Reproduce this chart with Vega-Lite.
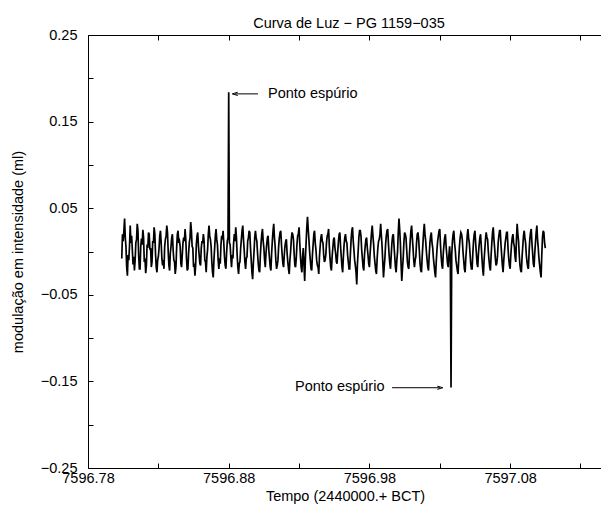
{
"$schema":"https://vega.github.io/schema/vega-lite/v6.json",
"width":514,"height":433,
"autosize":{"type":"none"},
"padding":{"left":88,"top":35,"right":0,"bottom":39},
"background":"white",
"config":{
"font":"Liberation Sans",
"view":{"stroke":"black","strokeWidth":1},
"axis":{"domain":false,"grid":false,"tickColor":"black","tickSize":-5,"tickWidth":1,"labelColor":"black","labelFont":"Liberation Sans","labelFontSize":14.5,"titleFont":"Liberation Sans","titleFontSize":14.5,"titleFontWeight":"normal","titleColor":"black"}
},
"title":{"text":"Curva de Luz − PG 1159−035","fontSize":14.5,"fontWeight":"normal","font":"Liberation Sans","color":"black","offset":3,"dx":4,"dy":7},
"datasets":{
"lc":[
{"t":7596.804,"m":-0.008},{"t":7596.8045,"m":0.020},{"t":7596.805,"m":0.012},{"t":7596.8055,"m":0.024},{"t":7596.806,"m":0.038},{"t":7596.8065,"m":0.016},{"t":7596.807,"m":0.005},{"t":7596.8075,"m":-0.018},{"t":7596.808,"m":-0.028},{"t":7596.8085,"m":-0.004},{"t":7596.809,"m":-0.010},{"t":7596.8095,"m":0.006},{"t":7596.810,"m":0.030},{"t":7596.8105,"m":0.010},{"t":7596.811,"m":0.018},{"t":7596.8115,"m":0.002},{"t":7596.812,"m":-0.015},{"t":7596.8125,"m":-0.006},{"t":7596.813,"m":-0.022},{"t":7596.8135,"m":-0.010},
{"t":7596.814,"m":0.010},{"t":7596.8145,"m":0.014},{"t":7596.815,"m":0.032},{"t":7596.8155,"m":0.024},{"t":7596.816,"m":-0.005},{"t":7596.8165,"m":-0.020},{"t":7596.817,"m":-0.020},{"t":7596.8175,"m":0.006},{"t":7596.818,"m":0.015},{"t":7596.8185,"m":0.008},{"t":7596.819,"m":0.025},{"t":7596.8195,"m":0.016},{"t":7596.820,"m":-0.012},{"t":7596.8205,"m":-0.008},{"t":7596.821,"m":-0.025},{"t":7596.8215,"m":-0.016},{"t":7596.822,"m":0.008},{"t":7596.8225,"m":0.004},{"t":7596.823,"m":0.022},{"t":7596.8235,"m":0.020},
{"t":7596.824,"m":0.002},{"t":7596.8245,"m":0.004},{"t":7596.825,"m":-0.018},{"t":7596.8255,"m":-0.012},{"t":7596.826,"m":0.012},{"t":7596.8265,"m":0.010},{"t":7596.827,"m":0.028},{"t":7596.8275,"m":0.020},{"t":7596.828,"m":-0.003},{"t":7596.8285,"m":-0.018},{"t":7596.829,"m":-0.024},{"t":7596.8295,"m":-0.010},{"t":7596.830,"m":-0.006},{"t":7596.8305,"m":0.004},{"t":7596.831,"m":0.018},{"t":7596.8315,"m":0.024},{"t":7596.832,"m":0.010},{"t":7596.8325,"m":-0.008},{"t":7596.833,"m":-0.016},{"t":7596.8335,"m":-0.010},
{"t":7596.834,"m":-0.020},{"t":7596.8345,"m":0.006},{"t":7596.835,"m":0.014},{"t":7596.8355,"m":0.018},{"t":7596.836,"m":0.030},{"t":7596.8365,"m":0.022},{"t":7596.837,"m":0.000},{"t":7596.8375,"m":-0.016},{"t":7596.838,"m":-0.022},{"t":7596.8385,"m":-0.002},{"t":7596.839,"m":0.006},{"t":7596.8395,"m":0.016},{"t":7596.840,"m":0.020},{"t":7596.8405,"m":0.002},{"t":7596.841,"m":-0.010},{"t":7596.8415,"m":-0.012},{"t":7596.842,"m":-0.026},{"t":7596.8425,"m":-0.018},{"t":7596.843,"m":0.004},{"t":7596.8435,"m":0.020},
{"t":7596.844,"m":0.024},{"t":7596.8445,"m":0.010},{"t":7596.845,"m":0.012},{"t":7596.8455,"m":0.006},{"t":7596.846,"m":-0.014},{"t":7596.8465,"m":-0.018},{"t":7596.847,"m":-0.004},{"t":7596.8475,"m":0.010},{"t":7596.848,"m":0.016},{"t":7596.8485,"m":0.012},{"t":7596.849,"m":0.026},{"t":7596.8495,"m":0.014},{"t":7596.850,"m":-0.008},{"t":7596.8505,"m":-0.022},{"t":7596.851,"m":-0.020},{"t":7596.8515,"m":-0.002},{"t":7596.852,"m":0.010},{"t":7596.8525,"m":0.016},{"t":7596.853,"m":0.034},{"t":7596.8535,"m":0.024},
{"t":7596.854,"m":0.006},{"t":7596.8545,"m":0.004},{"t":7596.855,"m":-0.018},{"t":7596.8555,"m":-0.014},{"t":7596.856,"m":-0.028},{"t":7596.8565,"m":-0.016},{"t":7596.857,"m":0.008},{"t":7596.8575,"m":0.018},{"t":7596.858,"m":0.022},{"t":7596.8585,"m":0.006},{"t":7596.859,"m":-0.004},{"t":7596.8595,"m":-0.014},{"t":7596.860,"m":-0.016},{"t":7596.8605,"m":0.004},{"t":7596.861,"m":0.012},{"t":7596.8615,"m":0.010},{"t":7596.862,"m":0.020},{"t":7596.8625,"m":0.012},{"t":7596.863,"m":-0.010},{"t":7596.8635,"m":-0.012},
{"t":7596.864,"m":-0.024},{"t":7596.8645,"m":-0.006},{"t":7596.865,"m":0.002},{"t":7596.8655,"m":0.020},{"t":7596.866,"m":0.030},{"t":7596.8665,"m":0.018},{"t":7596.867,"m":0.014},{"t":7596.8675,"m":0.006},{"t":7596.868,"m":-0.012},{"t":7596.8685,"m":-0.024},{"t":7596.869,"m":-0.030},{"t":7596.8695,"m":-0.010},{"t":7596.870,"m":0.004},{"t":7596.8705,"m":0.018},{"t":7596.871,"m":0.026},{"t":7596.8715,"m":0.014},{"t":7596.872,"m":0.008},{"t":7596.8725,"m":-0.010},{"t":7596.873,"m":-0.020},{"t":7596.8735,"m":-0.008},
{"t":7596.874,"m":-0.014},{"t":7596.8745,"m":0.008},{"t":7596.875,"m":0.018},{"t":7596.8755,"m":0.014},{"t":7596.876,"m":0.024},{"t":7596.8765,"m":0.010},{"t":7596.877,"m":-0.006},{"t":7596.8775,"m":-0.016},{"t":7596.878,"m":-0.020},{"t":7596.8785,"m":-0.002},{"t":7596.879,"m":0.012},{"t":7596.8795,"m":0.016},{"t":7596.880,"m":0.184},{"t":7596.8805,"m":0.010},{"t":7596.881,"m":0.008},{"t":7596.8815,"m":-0.006},{"t":7596.882,"m":-0.018},{"t":7596.8825,"m":-0.004},{"t":7596.883,"m":-0.008},{"t":7596.8835,"m":0.010},
{"t":7596.884,"m":0.020},{"t":7596.8845,"m":0.012},{"t":7596.885,"m":0.028},{"t":7596.8855,"m":0.016},{"t":7596.886,"m":-0.004},{"t":7596.8865,"m":-0.018},{"t":7596.887,"m":-0.026},{"t":7596.8875,"m":-0.014},{"t":7596.888,"m":-0.012},{"t":7596.8885,"m":0.004},{"t":7596.889,"m":0.014},{"t":7596.8895,"m":0.024},{"t":7596.890,"m":0.030},{"t":7596.8905,"m":0.014},{"t":7596.891,"m":0.002},{"t":7596.8915,"m":-0.012},{"t":7596.892,"m":-0.020},{"t":7596.8925,"m":-0.008},{"t":7596.893,"m":-0.006},{"t":7596.8935,"m":0.012},
{"t":7596.894,"m":0.016},{"t":7596.8945,"m":0.024},{"t":7596.895,"m":0.022},{"t":7596.8955,"m":0.004},{"t":7596.896,"m":-0.010},{"t":7596.8965,"m":-0.024},{"t":7596.897,"m":-0.032},{"t":7596.8975,"m":-0.014},{"t":7596.898,"m":0.000},{"t":7596.8985,"m":0.016},{"t":7596.899,"m":0.024},{"t":7596.8995,"m":0.016},{"t":7596.900,"m":0.012},{"t":7596.9005,"m":-0.002},{"t":7596.901,"m":-0.014},{"t":7596.9015,"m":-0.022},{"t":7596.902,"m":-0.024},{"t":7596.9025,"m":-0.004},{"t":7596.903,"m":0.010},{"t":7596.9035,"m":0.020},
{"t":7596.904,"m":0.026},{"t":7596.9045,"m":0.012},{"t":7596.905,"m":0.004},{"t":7596.9055,"m":-0.010},{"t":7596.906,"m":-0.018},{"t":7596.9065,"m":-0.002},{"t":7596.907,"m":0.008},{"t":7596.9075,"m":0.016},{"t":7596.908,"m":0.018},{"t":7596.9085,"m":0.002},{"t":7596.909,"m":-0.008},{"t":7596.9095,"m":-0.018},{"t":7596.910,"m":-0.022},{"t":7596.9105,"m":-0.002},{"t":7596.911,"m":0.012},{"t":7596.9115,"m":0.024},{"t":7596.912,"m":0.032},{"t":7596.9125,"m":0.016},{"t":7596.913,"m":0.006},{"t":7596.9135,"m":-0.010},
{"t":7596.914,"m":-0.020},{"t":7596.9145,"m":-0.016},{"t":7596.915,"m":-0.010},{"t":7596.9155,"m":0.006},{"t":7596.916,"m":0.016},{"t":7596.9165,"m":0.022},{"t":7596.917,"m":0.024},{"t":7596.9175,"m":0.008},{"t":7596.918,"m":-0.004},{"t":7596.9185,"m":-0.014},{"t":7596.919,"m":-0.018},{"t":7596.9195,"m":-0.004},{"t":7596.920,"m":0.006},{"t":7596.9205,"m":0.012},{"t":7596.921,"m":0.014},{"t":7596.9215,"m":-0.002},{"t":7596.922,"m":-0.012},{"t":7596.9225,"m":-0.020},{"t":7596.923,"m":-0.026},{"t":7596.9235,"m":-0.010},
{"t":7596.924,"m":0.000},{"t":7596.9245,"m":0.014},{"t":7596.925,"m":0.022},{"t":7596.9255,"m":0.020},{"t":7596.926,"m":0.014},{"t":7596.9265,"m":-0.002},{"t":7596.927,"m":-0.016},{"t":7596.9275,"m":-0.018},{"t":7596.928,"m":-0.008},{"t":7596.9285,"m":0.008},{"t":7596.929,"m":0.018},{"t":7596.9295,"m":0.020},{"t":7596.930,"m":0.028},{"t":7596.9305,"m":0.010},{"t":7596.931,"m":-0.006},{"t":7596.9315,"m":-0.018},{"t":7596.932,"m":-0.024},{"t":7596.9325,"m":-0.006},{"t":7596.933,"m":0.004},{"t":7596.9335,"m":-0.016},
{"t":7596.934,"m":-0.034},{"t":7596.9345,"m":-0.008},{"t":7596.935,"m":0.010},{"t":7596.9355,"m":0.028},{"t":7596.936,"m":0.040},{"t":7596.9365,"m":0.026},{"t":7596.937,"m":0.014},{"t":7596.9375,"m":0.000},{"t":7596.938,"m":-0.010},{"t":7596.9385,"m":-0.020},{"t":7596.939,"m":-0.022},{"t":7596.9395,"m":-0.004},{"t":7596.940,"m":0.008},{"t":7596.9405,"m":0.020},{"t":7596.941,"m":0.024},{"t":7596.9415,"m":0.010},{"t":7596.942,"m":0.002},{"t":7596.9425,"m":-0.010},{"t":7596.943,"m":-0.016},{"t":7596.9435,"m":-0.018},
{"t":7596.944,"m":-0.026},{"t":7596.9445,"m":-0.006},{"t":7596.945,"m":0.006},{"t":7596.9455,"m":0.016},{"t":7596.946,"m":0.020},{"t":7596.9465,"m":0.012},{"t":7596.947,"m":0.010},{"t":7596.9475,"m":-0.004},{"t":7596.948,"m":-0.012},{"t":7596.9485,"m":-0.010},{"t":7596.949,"m":-0.004},{"t":7596.9495,"m":0.010},{"t":7596.950,"m":0.018},{"t":7596.9505,"m":0.020},{"t":7596.951,"m":0.026},{"t":7596.9515,"m":0.006},{"t":7596.952,"m":-0.008},{"t":7596.9525,"m":-0.018},{"t":7596.953,"m":-0.022},{"t":7596.9535,"m":-0.006},
{"t":7596.954,"m":0.004},{"t":7596.9545,"m":0.014},{"t":7596.955,"m":0.016},{"t":7596.9555,"m":0.004},{"t":7596.956,"m":-0.002},{"t":7596.9565,"m":-0.012},{"t":7596.957,"m":-0.014},{"t":7596.9575,"m":0.000},{"t":7596.958,"m":0.012},{"t":7596.9585,"m":0.020},{"t":7596.959,"m":0.022},{"t":7596.9595,"m":0.006},{"t":7596.960,"m":-0.006},{"t":7596.9605,"m":-0.018},{"t":7596.961,"m":-0.024},{"t":7596.9615,"m":-0.006},{"t":7596.962,"m":0.008},{"t":7596.9625,"m":0.016},{"t":7596.963,"m":0.020},{"t":7596.9635,"m":0.012},
{"t":7596.964,"m":0.010},{"t":7596.9645,"m":-0.004},{"t":7596.965,"m":-0.012},{"t":7596.9655,"m":-0.020},{"t":7596.966,"m":-0.020},{"t":7596.9665,"m":-0.002},{"t":7596.967,"m":0.014},{"t":7596.9675,"m":0.024},{"t":7596.968,"m":0.028},{"t":7596.9685,"m":0.012},{"t":7596.969,"m":0.002},{"t":7596.9695,"m":-0.010},{"t":7596.970,"m":-0.016},{"t":7596.9705,"m":-0.024},{"t":7596.971,"m":-0.038},{"t":7596.9715,"m":-0.014},{"t":7596.972,"m":0.000},{"t":7596.9725,"m":0.016},{"t":7596.973,"m":0.024},{"t":7596.9735,"m":0.024},
{"t":7596.974,"m":0.018},{"t":7596.9745,"m":0.002},{"t":7596.975,"m":-0.008},{"t":7596.9755,"m":-0.018},{"t":7596.976,"m":-0.022},{"t":7596.9765,"m":-0.004},{"t":7596.977,"m":0.006},{"t":7596.9775,"m":0.014},{"t":7596.978,"m":0.016},{"t":7596.9785,"m":0.004},{"t":7596.979,"m":-0.004},{"t":7596.9795,"m":-0.014},{"t":7596.980,"m":-0.018},{"t":7596.9805,"m":-0.002},{"t":7596.981,"m":0.010},{"t":7596.9815,"m":0.022},{"t":7596.982,"m":0.030},{"t":7596.9825,"m":0.018},{"t":7596.983,"m":0.008},{"t":7596.9835,"m":-0.006},
{"t":7596.984,"m":-0.014},{"t":7596.9845,"m":-0.022},{"t":7596.985,"m":-0.026},{"t":7596.9855,"m":-0.008},{"t":7596.986,"m":0.004},{"t":7596.9865,"m":0.012},{"t":7596.987,"m":0.014},{"t":7596.9875,"m":0.020},{"t":7596.988,"m":0.032},{"t":7596.9885,"m":0.018},{"t":7596.989,"m":0.006},{"t":7596.9895,"m":-0.012},{"t":7596.990,"m":-0.030},{"t":7596.9905,"m":-0.018},{"t":7596.991,"m":-0.008},{"t":7596.9915,"m":0.008},{"t":7596.992,"m":0.018},{"t":7596.9925,"m":0.024},{"t":7596.993,"m":0.026},{"t":7596.9935,"m":0.010},
{"t":7596.994,"m":-0.004},{"t":7596.9945,"m":-0.014},{"t":7596.995,"m":-0.020},{"t":7596.9955,"m":-0.004},{"t":7596.996,"m":0.010},{"t":7596.9965,"m":0.018},{"t":7596.997,"m":0.020},{"t":7596.9975,"m":0.006},{"t":7596.998,"m":-0.006},{"t":7596.9985,"m":-0.018},{"t":7596.999,"m":-0.024},{"t":7596.9995,"m":-0.010},{"t":7597.000,"m":0.000},{"t":7597.0005,"m":0.022},{"t":7597.001,"m":0.038},{"t":7597.0015,"m":0.026},{"t":7597.002,"m":0.010},{"t":7597.0025,"m":-0.014},{"t":7597.003,"m":-0.034},{"t":7597.0035,"m":-0.020},
{"t":7597.004,"m":-0.008},{"t":7597.0045,"m":0.010},{"t":7597.005,"m":0.022},{"t":7597.0055,"m":0.020},{"t":7597.006,"m":0.016},{"t":7597.0065,"m":0.002},{"t":7597.007,"m":-0.012},{"t":7597.0075,"m":-0.018},{"t":7597.008,"m":-0.020},{"t":7597.0085,"m":-0.002},{"t":7597.009,"m":0.012},{"t":7597.0095,"m":0.024},{"t":7597.010,"m":0.030},{"t":7597.0105,"m":0.016},{"t":7597.011,"m":0.004},{"t":7597.0115,"m":-0.010},{"t":7597.012,"m":-0.018},{"t":7597.0125,"m":-0.010},{"t":7597.013,"m":-0.006},{"t":7597.0135,"m":0.010},
{"t":7597.014,"m":0.020},{"t":7597.0145,"m":0.022},{"t":7597.015,"m":0.014},{"t":7597.0155,"m":0.000},{"t":7597.016,"m":-0.014},{"t":7597.0165,"m":-0.022},{"t":7597.017,"m":-0.024},{"t":7597.0175,"m":-0.006},{"t":7597.018,"m":0.008},{"t":7597.0185,"m":0.022},{"t":7597.019,"m":0.032},{"t":7597.0195,"m":0.020},{"t":7597.020,"m":0.012},{"t":7597.0205,"m":0.000},{"t":7597.021,"m":-0.010},{"t":7597.0215,"m":-0.018},{"t":7597.022,"m":-0.022},{"t":7597.0225,"m":-0.004},{"t":7597.023,"m":0.010},{"t":7597.0235,"m":0.018},
{"t":7597.024,"m":0.022},{"t":7597.0245,"m":0.010},{"t":7597.025,"m":0.004},{"t":7597.0255,"m":-0.008},{"t":7597.026,"m":-0.016},{"t":7597.0265,"m":-0.024},{"t":7597.027,"m":-0.030},{"t":7597.0275,"m":-0.012},{"t":7597.028,"m":0.002},{"t":7597.0285,"m":0.012},{"t":7597.029,"m":0.018},{"t":7597.0295,"m":0.024},{"t":7597.030,"m":0.026},{"t":7597.0305,"m":0.008},{"t":7597.031,"m":-0.006},{"t":7597.0315,"m":-0.016},{"t":7597.032,"m":-0.020},{"t":7597.0325,"m":-0.002},{"t":7597.033,"m":0.008},{"t":7597.0335,"m":0.016},
{"t":7597.034,"m":0.020},{"t":7597.0345,"m":0.006},{"t":7597.035,"m":-0.004},{"t":7597.0355,"m":-0.014},{"t":7597.036,"m":-0.018},{"t":7597.0365,"m":-0.004},{"t":7597.037,"m":0.006},{"t":7597.0375,"m":-0.008},{"t":7597.038,"m":-0.157},{"t":7597.0385,"m":-0.004},{"t":7597.039,"m":0.012},{"t":7597.0395,"m":0.020},{"t":7597.040,"m":0.024},{"t":7597.0405,"m":0.010},{"t":7597.041,"m":0.002},{"t":7597.0415,"m":-0.010},{"t":7597.042,"m":-0.016},{"t":7597.0425,"m":-0.022},{"t":7597.043,"m":-0.026},{"t":7597.0435,"m":-0.008},
{"t":7597.044,"m":0.006},{"t":7597.0445,"m":0.016},{"t":7597.045,"m":0.022},{"t":7597.0455,"m":0.020},{"t":7597.046,"m":0.014},{"t":7597.0465,"m":0.000},{"t":7597.047,"m":-0.010},{"t":7597.0475,"m":-0.020},{"t":7597.048,"m":-0.024},{"t":7597.0485,"m":-0.008},{"t":7597.049,"m":0.004},{"t":7597.0495,"m":0.018},{"t":7597.050,"m":0.026},{"t":7597.0505,"m":0.016},{"t":7597.051,"m":0.010},{"t":7597.0515,"m":-0.002},{"t":7597.052,"m":-0.014},{"t":7597.0525,"m":-0.020},{"t":7597.053,"m":-0.020},{"t":7597.0535,"m":-0.002},
{"t":7597.054,"m":0.012},{"t":7597.0545,"m":0.020},{"t":7597.055,"m":0.024},{"t":7597.0555,"m":0.010},{"t":7597.056,"m":-0.002},{"t":7597.0565,"m":-0.014},{"t":7597.057,"m":-0.018},{"t":7597.0575,"m":-0.002},{"t":7597.058,"m":0.008},{"t":7597.0585,"m":0.016},{"t":7597.059,"m":0.020},{"t":7597.0595,"m":0.006},{"t":7597.060,"m":-0.008},{"t":7597.0605,"m":-0.020},{"t":7597.061,"m":-0.028},{"t":7597.0615,"m":-0.010},{"t":7597.062,"m":0.002},{"t":7597.0625,"m":0.014},{"t":7597.063,"m":0.022},{"t":7597.0635,"m":0.016},
{"t":7597.064,"m":0.014},{"t":7597.0645,"m":0.000},{"t":7597.065,"m":-0.010},{"t":7597.0655,"m":-0.018},{"t":7597.066,"m":-0.022},{"t":7597.0665,"m":-0.004},{"t":7597.067,"m":0.010},{"t":7597.0675,"m":0.022},{"t":7597.068,"m":0.028},{"t":7597.0685,"m":0.014},{"t":7597.069,"m":0.004},{"t":7597.0695,"m":-0.008},{"t":7597.070,"m":-0.016},{"t":7597.0705,"m":-0.014},{"t":7597.071,"m":-0.006},{"t":7597.0715,"m":0.010},{"t":7597.072,"m":0.018},{"t":7597.0725,"m":0.024},{"t":7597.073,"m":0.024},{"t":7597.0735,"m":0.008},
{"t":7597.074,"m":-0.004},{"t":7597.0745,"m":-0.016},{"t":7597.075,"m":-0.024},{"t":7597.0755,"m":-0.010},{"t":7597.076,"m":0.000},{"t":7597.0765,"m":0.010},{"t":7597.077,"m":0.016},{"t":7597.0775,"m":0.022},{"t":7597.078,"m":0.022},{"t":7597.0785,"m":0.004},{"t":7597.079,"m":-0.008},{"t":7597.0795,"m":-0.016},{"t":7597.080,"m":-0.020},{"t":7597.0805,"m":-0.004},{"t":7597.081,"m":0.008},{"t":7597.0815,"m":0.016},{"t":7597.082,"m":0.020},{"t":7597.0825,"m":0.010},{"t":7597.083,"m":0.006},{"t":7597.0835,"m":-0.006},
{"t":7597.084,"m":-0.012},{"t":7597.0845,"m":0.014},{"t":7597.085,"m":0.032},{"t":7597.0855,"m":0.020},{"t":7597.086,"m":0.012},{"t":7597.0865,"m":-0.004},{"t":7597.087,"m":-0.016},{"t":7597.0875,"m":-0.022},{"t":7597.088,"m":-0.024},{"t":7597.0885,"m":-0.006},{"t":7597.089,"m":0.006},{"t":7597.0895,"m":0.018},{"t":7597.090,"m":0.024},{"t":7597.0905,"m":0.016},{"t":7597.091,"m":0.010},{"t":7597.0915,"m":-0.004},{"t":7597.092,"m":-0.012},{"t":7597.0925,"m":-0.018},{"t":7597.093,"m":-0.020},{"t":7597.0935,"m":0.000},
{"t":7597.094,"m":0.014},{"t":7597.0945,"m":0.022},{"t":7597.095,"m":0.026},{"t":7597.0955,"m":0.010},{"t":7597.096,"m":-0.002},{"t":7597.0965,"m":-0.014},{"t":7597.097,"m":-0.018},{"t":7597.0975,"m":-0.002},{"t":7597.098,"m":0.010},{"t":7597.0985,"m":0.022},{"t":7597.099,"m":0.030},{"t":7597.0995,"m":0.014},{"t":7597.100,"m":0.004},{"t":7597.1005,"m":-0.008},{"t":7597.101,"m":-0.016},{"t":7597.1015,"m":-0.024},{"t":7597.102,"m":-0.030},{"t":7597.1025,"m":-0.004},{"t":7597.103,"m":0.016},{"t":7597.1035,"m":0.024},
{"t":7597.104,"m":0.022},{"t":7597.1045,"m":0.010},{"t":7597.105,"m":0.004}
],
"notes":[
{"t":7596.9079,"m":0.1819,"label":"Ponto espúrio"},
{"t":7596.9271,"m":-0.1561,"label":"Ponto espúrio"}
],
"arrows":[
{"t1":7596.8845,"t2":7596.9008,"m":0.182,"head":7596.8845,"dir":"left"},
{"t1":7596.9961,"t2":7597.0302,"m":-0.1573,"head":7597.0302,"dir":"right"}
]
},
"layer":[
{"data":{"name":"lc"},"mark":{"type":"line","color":"black","strokeWidth":1.7,"strokeJoin":"miter"},
"encoding":{
"x":{"field":"t","type":"quantitative","scale":{"domain":[7596.78,7597.1453],"nice":false,"zero":false},
"axis":{"orient":"bottom","values":[7596.78,7596.83,7596.88,7596.93,7596.98,7597.03,7597.08,7597.13],"labelExpr":"round(datum.value*100)%10==8 ? format(datum.value,'.2f') : ''","labelPadding":8,"labelFlush":false,"labelOverlap":false,"title":"Tempo (2440000.+ BCT)","titlePadding":5}},
"y":{"field":"m","type":"quantitative","scale":{"domain":[-0.25,0.25],"nice":false,"zero":false},
"axis":{"values":[-0.25,-0.2,-0.15,-0.1,-0.05,0,0.05,0.1,0.15,0.2,0.25],"labelExpr":"abs(round(datum.value*100))%10==5 ? format(datum.value,'.2f') : ''","labelPadding":16,"labelFlush":false,"labelOverlap":false,"title":"modulação em intensidade (ml)","titlePadding":15}}
}},
{"data":{"name":"notes"},"mark":{"type":"text","align":"left","baseline":"middle","fontSize":14.5,"font":"Liberation Sans","color":"black"},
"encoding":{
"x":{"field":"t","type":"quantitative","axis":{"orient":"top","values":[7596.78,7596.83,7596.88,7596.93,7596.98,7597.03,7597.08,7597.13],"labels":false,"title":null}},
"y":{"field":"m","type":"quantitative","axis":null},
"text":{"field":"label"}}},
{"data":{"name":"arrows"},"mark":{"type":"rule","color":"black","strokeWidth":1},
"encoding":{"x":{"field":"t1","type":"quantitative","axis":null},"x2":{"field":"t2"},"y":{"field":"m","type":"quantitative","axis":null}}},
{"data":{"name":"arrows"},"mark":{"type":"point","filled":false,"stroke":"black","strokeWidth":1,"size":30,"opacity":1},
"encoding":{"x":{"field":"head","type":"quantitative","axis":null},"y":{"field":"m","type":"quantitative","axis":null},
"shape":{"field":"dir","type":"nominal","scale":{"domain":["left","right"],"range":["M1,-0.6L-1,0L1,0.6","M-1,-0.6L1,0L-1,0.6"]},"legend":null}}}
],
"resolve":{"axis":{"x":"independent","y":"independent"}}
}
